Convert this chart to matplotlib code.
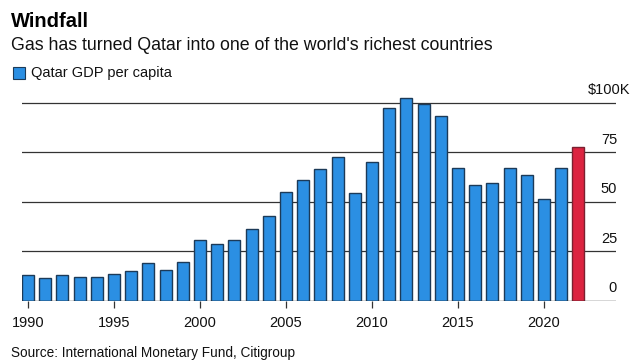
import matplotlib
matplotlib.use("Agg")
import matplotlib.pyplot as plt
from matplotlib.patches import Rectangle

years = list(range(1990, 2023))
gdp_per_capita = [13.1, 11.6, 13.1, 12.1, 12.1, 13.6, 15.2, 19.0, 15.7, 19.7,
                  30.5, 28.6, 30.5, 36.0, 42.6, 54.7, 60.8, 66.3, 72.7, 54.2,
                  70.2, 97.2, 102.2, 99.3, 93.3, 66.9, 58.3, 59.3, 66.9, 63.3,
                  51.4, 66.9, 77.7]
ytick_vals = [0, 25, 50, 75, 100]
ytick_labels = ["0", "25", "50", "75", "$100K"]
xtick_vals = [1990, 1995, 2000, 2005, 2010, 2015, 2020]

FONT = ["Liberation Sans", "DejaVu Sans"]
plt.rcParams["font.family"] = FONT

W, H = 640, 362
fig = plt.figure(figsize=(W / 100, H / 100), dpi=100)
fig.patch.set_facecolor("white")

def fx(px):
    return px / W

def fy(py):
    return 1 - py / H

ax_left, ax_right, ax_top, ax_bottom = 22, 616, 88, 300.7
ax = fig.add_axes([fx(ax_left), fy(ax_bottom), fx(ax_right - ax_left), (ax_bottom - ax_top) / H])
ymax = (ax_bottom - ax_top) / 1.98
ax.set_ylim(0, ymax)
x0 = 1990 - 6 / 17.2
x1 = 1990 + (ax_right - 28) / 17.2
ax.set_xlim(x0, x1)

blue = "#2b8fe3"
red = "#dc2340"
colors = [red if y == 2022 else blue for y in years]
edges = ["#7a2030" if y == 2022 else "#1c3a58" for y in years]
ax.bar(years, gdp_per_capita, width=0.7, color=colors, edgecolor=edges, linewidth=1.0, zorder=3)

for v in ytick_vals[1:]:
    ax.axhline(v, color="#333333", linewidth=0.9, zorder=1)
ax.axhline(0, color="#333333", linewidth=1.0, zorder=4)

for s in ax.spines.values():
    s.set_visible(False)
ax.set_yticks([])
ax.set_xticks(xtick_vals)
ax.set_xticklabels([str(x) for x in xtick_vals], fontsize=10.5, color="#111111")
ax.tick_params(axis="x", length=5, width=0.9, color="#333333", pad=6)

# y labels above gridlines at right
for v, lab in zip(ytick_vals, ytick_labels):
    ypix = ax_bottom - v * 1.98 - 8.5
    xr = 630 if lab.startswith("$") else 617
    fig.text(fx(xr), fy(ypix), lab, ha="right", va="baseline", fontsize=10.5, color="#111111")

fig.text(fx(11), fy(27), "Windfall", ha="left", va="baseline", fontsize=14.5,
         fontweight="bold", color="#000000")
fig.text(fx(11), fy(50), "Gas has turned Qatar into one of the world's richest countries",
         ha="left", va="baseline", fontsize=12.8, color="#111111")
fig.patches.append(Rectangle((fx(13), fy(79)), fx(12), 12 / H, transform=fig.transFigure,
                             facecolor=blue, edgecolor="#1c3a58", linewidth=0.8))
fig.text(fx(31), fy(77), "Qatar GDP per capita", ha="left", va="baseline", fontsize=10.5, color="#111111")
fig.text(fx(11), fy(357), "Source: International Monetary Fund, Citigroup", ha="left", va="baseline",
         fontsize=9.8, color="#111111")

fig.savefig("out.png", dpi=100, facecolor="white")
